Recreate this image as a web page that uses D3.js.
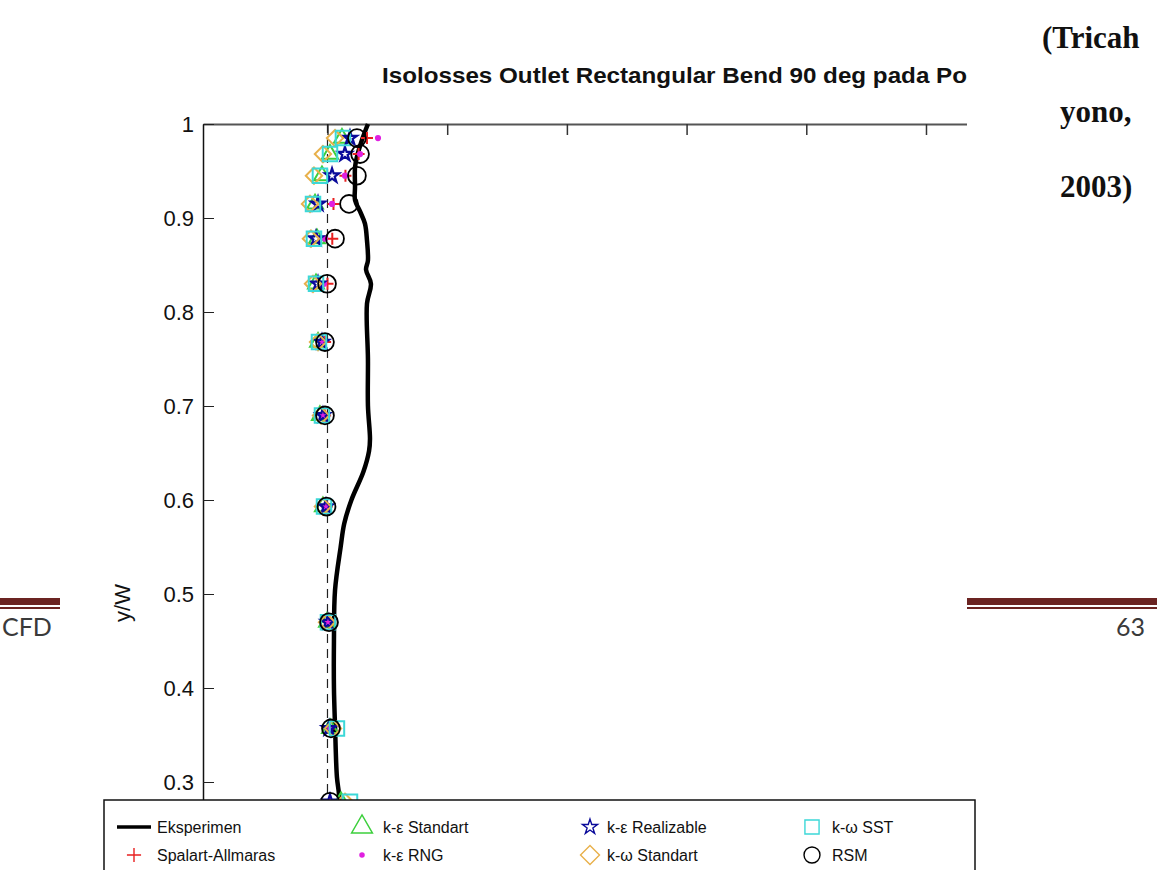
<!DOCTYPE html>
<html>
<head>
<meta charset="utf-8">
<script src="https://cdn.jsdelivr.net/npm/d3@7"></script>
<style>
body { margin: 0; background: #fff; }
svg { display: block; }
</style>
</head>
<body>
<svg id="chart" width="1164" height="870"></svg>
<script>
// y/W levels where the CFD models were sampled
var yLevels = [0.985, 0.968, 0.945, 0.915, 0.878, 0.83, 0.768, 0.69, 0.593, 0.47, 0.357, 0.279];

// experiment curve
var expY = [1.0, 0.983, 0.965, 0.954, 0.933, 0.919, 0.907, 0.894, 0.876, 0.855, 0.845, 0.83, 0.809, 0.75, 0.70, 0.665, 0.652, 0.63, 0.60, 0.575, 0.55, 0.504, 0.45, 0.40, 0.36, 0.305, 0.287, 0.27];
var expX = [0.338, 0.288, 0.246, 0.230, 0.230, 0.230, 0.272, 0.313, 0.330, 0.338, 0.322, 0.363, 0.330, 0.338, 0.338, 0.355, 0.347, 0.300, 0.200, 0.140, 0.110, 0.063, 0.054, 0.054, 0.063, 0.079, 0.096, 0.10];

// model series (x values at yLevels)
var spalartX    = [0.33, 0.26, 0.15, 0.05, 0.04, 0.0, -0.02, -0.02, -0.004, 0.013, 0.02, 0.02];
var keStdX      = [0.121, 0.021, -0.046, -0.104, -0.088, -0.096, -0.079, -0.063, -0.038, -0.004, 0.021, 0.113];
var keRngX      = [0.422, 0.272, 0.146, 0.038, -0.021, -0.029, -0.038, -0.038, -0.013, 0.004, 0.021, 0.021];
var keRealX     = [0.188, 0.146, 0.038, -0.079, -0.096, -0.079, -0.046, -0.038, -0.013, 0.004, 0.013, 0.021];
var kwStdX      = [0.063, -0.038, -0.113, -0.146, -0.138, -0.121, -0.079, -0.054, -0.038, -0.004, 0.046, 0.146];
var kwSstX      = [0.129, 0.021, -0.063, -0.121, -0.113, -0.096, -0.071, -0.046, -0.029, 0.004, 0.079, 0.188];
var rsmX        = [0.246, 0.272, 0.246, 0.180, 0.063, -0.004, -0.021, -0.021, -0.008, 0.013, 0.029, 0.021];

var xTicks = [0, 1, 2, 3, 4, 5, 6, 7];
var yTicks = [1, 0.9, 0.8, 0.7, 0.6, 0.5, 0.4, 0.3];
var titleText = 'Isolosses Outlet Rectangular Bend 90 deg pada Po';
var sideText = ['(Tricah', 'yono,', '2003)'];

var svg = d3.select('#chart');

// ---- document page behind the figure ----
var maroon = '#6b2422';
[[0, 60], [967, 1157]].forEach(function(s) {
    svg.append('rect').attr('x', s[0]).attr('y', 598).attr('width', s[1] - s[0]).attr('height', 7).attr('fill', maroon);
    svg.append('rect').attr('x', s[0]).attr('y', 607).attr('width', s[1] - s[0]).attr('height', 2).attr('fill', maroon);
});
svg.append('text').attr('x', 2).attr('y', 636).attr('font-family', 'Lato, "Open Sans", sans-serif')
    .attr('font-size', 25).attr('fill', '#3a3a3a').text('CFD');
svg.append('text').attr('x', 1145).attr('y', 636).attr('text-anchor', 'end').attr('font-family', 'Lato, "Open Sans", sans-serif')
    .attr('font-size', 25).attr('fill', '#3a3a3a').text('63');
var sideX = [1042, 1060, 1060], sideY = [48, 122, 197];
sideText.forEach(function(t, i) {
    svg.append('text').attr('x', sideX[i]).attr('y', sideY[i])
        .attr('font-family', '"Liberation Serif", "Times New Roman", serif')
        .attr('font-weight', 'bold').attr('font-size', 31).attr('fill', '#111').text(t);
});

// ---- the figure (white image pasted over the page) ----
svg.append('rect').attr('x', 60).attr('y', 0).attr('width', 907).attr('height', 870).attr('fill', '#fff');

var x = d3.scaleLinear().domain([-1.04, 7]).range([203, 203 + 8.04 * 119.7]);
var y = d3.scaleLinear().domain([0, 1]).range([1064, 124]);

svg.append('defs').append('clipPath').attr('id', 'fig')
    .append('rect').attr('x', 60).attr('y', 0).attr('width', 907).attr('height', 870);

var fig = svg.append('g').attr('clip-path', 'url(#fig)');

fig.append('text').attr('x', 382).attr('y', 83)
    .attr('font-family', '"Liberation Sans", Arial, sans-serif').attr('font-weight', 'bold')
    .attr('font-size', 22).attr('textLength', 585).attr('lengthAdjust', 'spacingAndGlyphs')
    .attr('fill', '#111').text(titleText);

// axes
var topAxis = fig.append('g').attr('transform', 'translate(0,' + y(1) + ')')
    .call(d3.axisTop(x).tickValues(xTicks).tickSizeInner(-11).tickSizeOuter(0).tickFormat(''));
topAxis.select('.domain').attr('stroke', '#555').attr('stroke-width', 2);
topAxis.selectAll('.tick line').attr('stroke', '#333').attr('stroke-width', 1.5);

var leftAxis = fig.append('g').attr('transform', 'translate(' + x(-1.04) + ',0)')
    .call(d3.axisLeft(y).tickValues(yTicks).tickSizeInner(-11).tickSizeOuter(0).tickPadding(9).tickFormat(d3.format('')));
leftAxis.select('.domain').attr('stroke', '#111').attr('stroke-width', 1.5);
leftAxis.selectAll('.tick line').attr('stroke', '#222');
leftAxis.selectAll('.tick text').attr('font-family', '"Liberation Sans", Arial, sans-serif')
    .attr('font-size', 22).attr('fill', '#111').attr('dy', '0.36em');

fig.append('text').attr('transform', 'translate(130,603) rotate(-90)').attr('text-anchor', 'middle')
    .attr('font-family', '"Liberation Sans", Arial, sans-serif').attr('font-size', 22).attr('fill', '#111').text('y/W');

// dashed reference line
fig.append('line').attr('x1', x(0)).attr('x2', x(0)).attr('y1', y(1)).attr('y2', y(0.25))
    .attr('stroke', '#222').attr('stroke-width', 1.2).attr('stroke-dasharray', '9,6');

// experiment line
var expPts = expY.map(function(v, i) { return [expX[i], v]; });
fig.append('path').datum(expPts)
    .attr('d', d3.line().x(function(d) { return x(d[0]); }).y(function(d) { return y(d[1]); }).curve(d3.curveCatmullRom))
    .attr('fill', 'none').attr('stroke', '#000').attr('stroke-width', 4.5);

// marker shapes
var plusSym = { draw: function(ctx, size) {
    var r = Math.sqrt(size) / 2;
    ctx.moveTo(-r, 0); ctx.lineTo(r, 0); ctx.moveTo(0, -r); ctx.lineTo(0, r);
} };

var series = [
    { name: 'Spalart-Allmaras', xs: spalartX, type: plusSym, size: 144, stroke: '#e82020', fill: 'none', sw: 2, lsize: 200 },
    { name: 'k-\u03b5 Standart', xs: keStdX, type: d3.symbolTriangle, size: 110, stroke: '#3ccf3c', fill: 'none', sw: 2, lsize: 190 },
    { name: 'k-\u03b5 RNG', xs: keRngX, type: d3.symbolCircle, size: 30, stroke: 'none', fill: '#e020e0', sw: 0, lsize: 24 },
    { name: 'k-\u03b5 Realizable', xs: keRealX, type: d3.symbolStar, size: 60, stroke: '#0a0a9a', fill: 'none', sw: 2.2, lsize: 70 },
    { name: 'k-\u03c9 Standart', xs: kwStdX, type: d3.symbolDiamond2, size: 170, stroke: '#e8b04a', fill: 'none', sw: 2, lsize: 230 },
    { name: 'k-\u03c9 SST', xs: kwSstX, type: d3.symbolSquare, size: 210, stroke: '#3cd8d8', fill: 'none', sw: 2, lsize: 200 },
    { name: 'RSM', xs: rsmX, type: d3.symbolCircle, size: 250, stroke: '#000', fill: 'none', sw: 1.8, lsize: 200 }
];

series.forEach(function(s) {
    fig.append('g').selectAll('path')
        .data(s.xs.map(function(v, i) { return [v, yLevels[i]]; }))
        .enter().append('path')
        .attr('transform', function(d) { return 'translate(' + x(d[0]) + ',' + y(d[1]) + ')'; })
        .attr('d', d3.symbol().type(s.type).size(s.size))
        .attr('fill', s.fill).attr('stroke', s.stroke).attr('stroke-width', s.sw);
});

// legend (sticks out a little past the pasted figure)
var legend = svg.append('g');
legend.append('rect').attr('x', 104).attr('y', 800).attr('width', 871).attr('height', 90)
    .attr('fill', '#fff').attr('stroke', '#111').attr('stroke-width', 1.5);

var legendItems = [{ name: 'Eksperimen', line: true }].concat(series);
var colX = [134, 362, 590, 812], textX = [157, 383, 607, 832], rowY = [827, 855];
legendItems.forEach(function(s, i) {
    var col = Math.floor(i / 2), row = i % 2;
    if (s.line) {
        legend.append('line').attr('x1', colX[col] - 17).attr('x2', colX[col] + 17)
            .attr('y1', rowY[row]).attr('y2', rowY[row]).attr('stroke', '#000').attr('stroke-width', 3.5);
    } else {
        legend.append('path').attr('transform', 'translate(' + colX[col] + ',' + rowY[row] + ')')
            .attr('d', d3.symbol().type(s.type).size(s.lsize))
            .attr('fill', s.fill).attr('stroke', s.stroke).attr('stroke-width', s.sw ? 1.4 : 0);
    }
    legend.append('text').attr('x', textX[col]).attr('y', rowY[row]).attr('dy', '0.35em')
        .attr('font-family', '"Liberation Sans", Arial, sans-serif').attr('font-size', 16).attr('fill', '#111')
        .text(s.name);
});
</script>
</body>
</html>
